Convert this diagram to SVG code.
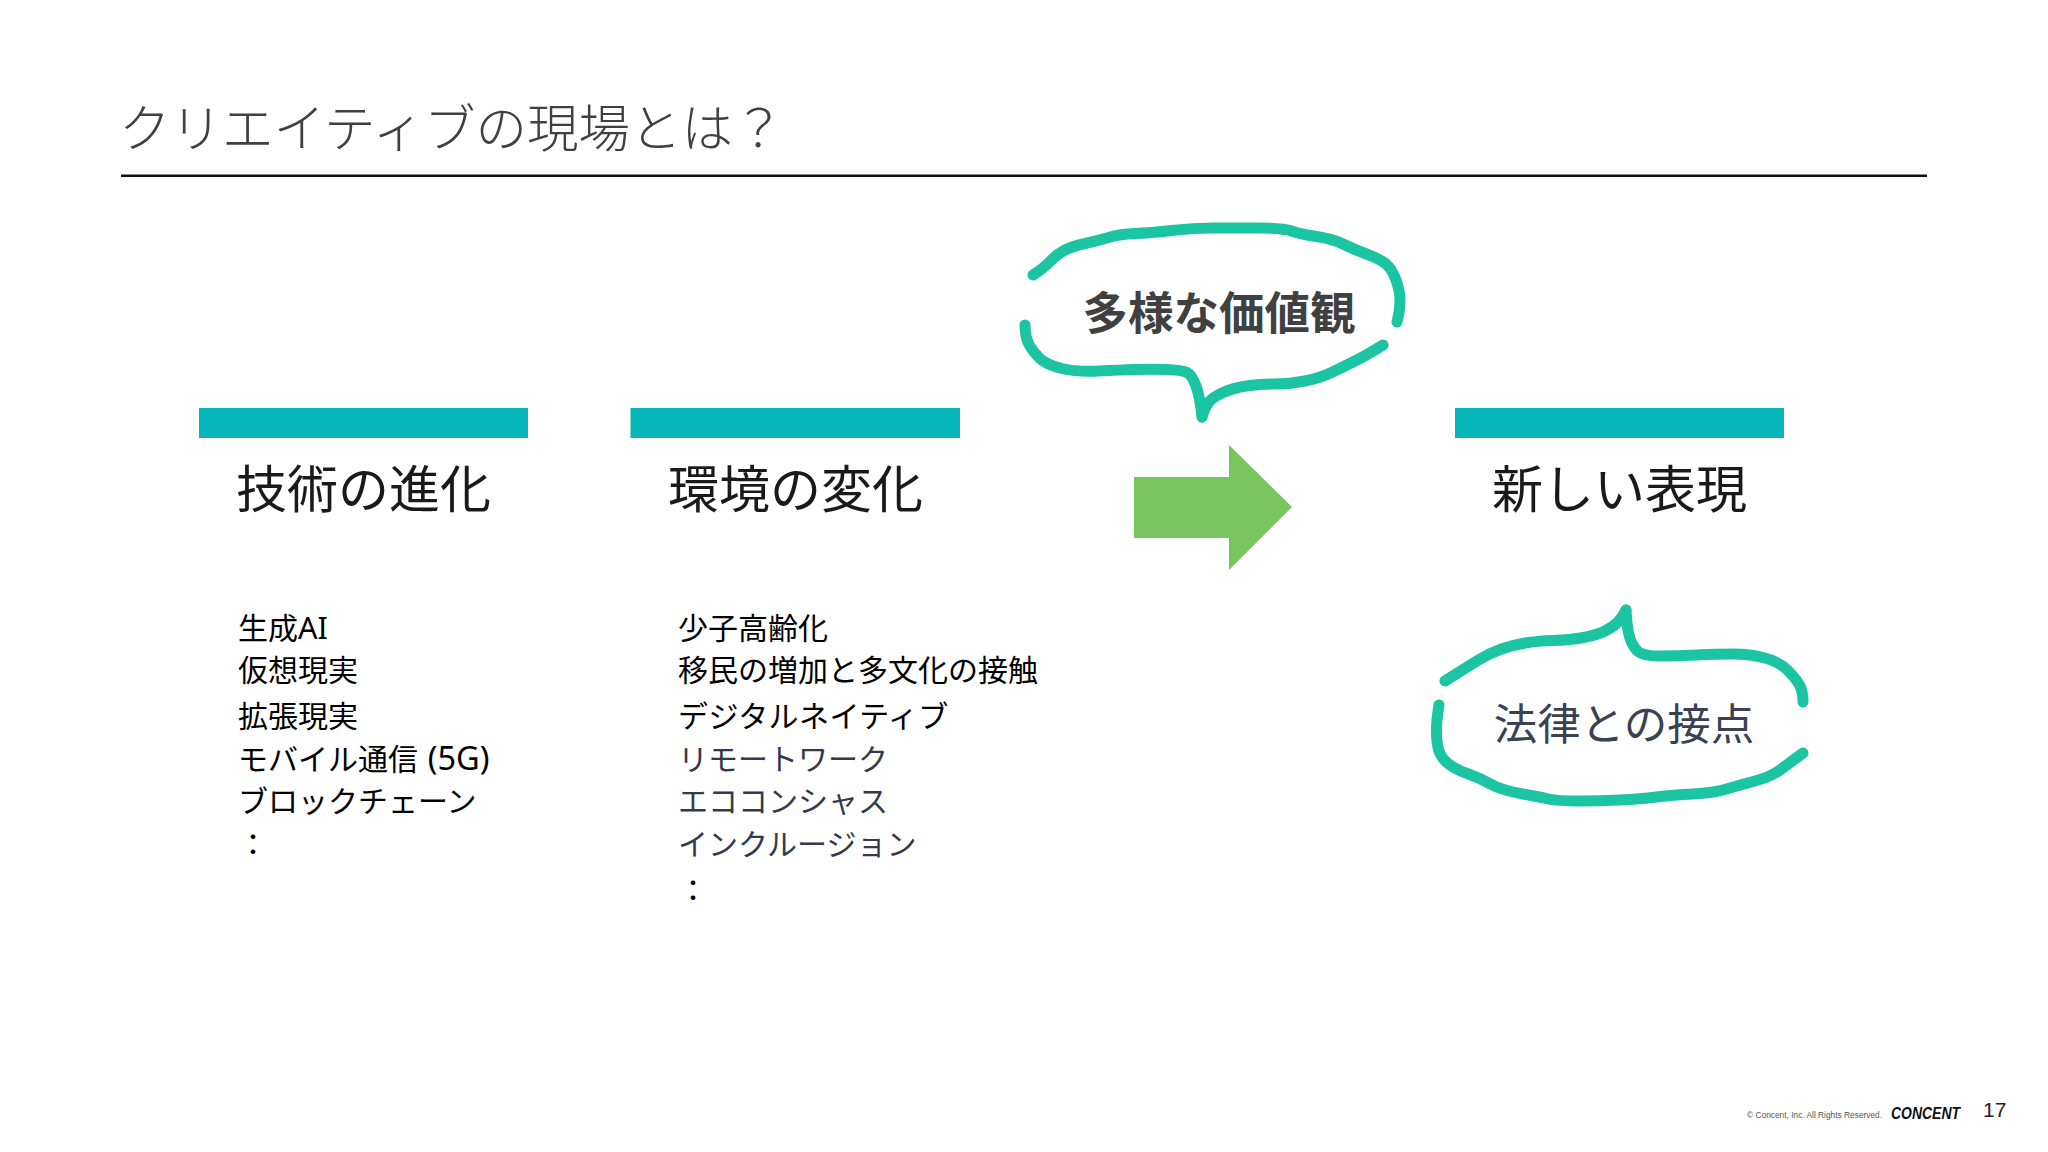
<svg xmlns="http://www.w3.org/2000/svg" width="2048" height="1152" viewBox="0 0 2048 1152">
<style>
text{font-family:"Noto Sans CJK JP","Noto Sans",sans-serif}
.bar{fill:#06b6b9}
.h{font-size:51px;fill:#1a1a1a;text-anchor:middle}
.l{font-size:30px;fill:#000}
.lat{font-family:"Noto Sans",sans-serif;font-size:32.5px}
.m{fill:#343a4c}
.s{fill:none;stroke:#1cc5a2;stroke-width:11;stroke-linecap:round;stroke-linejoin:round}
.f{font-family:"Liberation Sans",sans-serif}
</style>
<rect width="2048" height="1152" fill="#fff"/>
<g id="title"><text x="119" y="147" font-size="51.5" font-weight="300" fill="#404040">クリエイティブの現場とは？</text>
<rect x="121" y="174.500" width="1806" height="2.5" fill="#111"/></g>
<g id="col1"><rect class="bar" x="199" y="408" width="329" height="30"/><text class="h" x="363.500" y="508">技術の進化</text>
<text class="l" x="238" y="639">生成<tspan class="lat" style="font-size:30.500px">AI</tspan></text><text class="l" x="238" y="681">仮想現実</text><text class="l" x="238" y="727">拡張現実</text><text class="l" x="238" y="770">モバイル通信 <tspan class="lat" dx="3">(5G)</tspan></text><text class="l" x="238" y="812">ブロックチェーン</text><text class="l" x="238" y="855">：</text></g>
<g id="col2"><rect class="bar" x="630.500" y="408" width="329.500" height="30"/><text class="h" x="795.500" y="508">環境の変化</text>
<text class="l" x="678" y="639">少子高齢化</text><text class="l" x="678" y="681">移民の増加と多文化の接触</text><text class="l" x="678" y="727" letter-spacing=".4">デジタルネイティブ</text><text class="l m" x="678" y="770">リモートワーク</text><text class="l m" x="678" y="812">エココンシャス</text><text class="l m" x="678" y="855">インクルージョン</text><text class="l" x="678" y="901">：</text></g>
<g id="arrow"><polygon points="1134,477 1229,477 1229,445 1292,507 1229,570 1229,538 1134,538" fill="#7ac55f"/></g>
<g id="col3"><rect class="bar" x="1455" y="408" width="329" height="30"/><text class="h" x="1619.500" y="508">新しい表現</text></g>
<g id="bubble1"><path class="s" d="M1033 275Q1044 268 1050.500 261Q1057 254 1065 250Q1073 246 1085 243.500Q1097 241 1108.500 237.500Q1120 234 1135 233.500Q1150 233 1171.500 230.500Q1193 228 1213 228Q1233 228 1258 228Q1283 228 1291.500 231Q1300 234 1316.500 236.500Q1333 239 1343 244Q1353 249 1366.500 254Q1380 259 1386 264Q1392 269 1396 280Q1400 291 1400 301Q1400 311 1397 322"/>
<path class="s" d="M1383 345Q1367 355 1355 361Q1343 367 1331.500 372.500Q1320 378 1305 381Q1290 384 1275 384Q1260 384 1246.500 386Q1233 388 1223 392.500Q1213 397 1209 402Q1205 407 1202 417"/>
<path class="s" d="M1202 417Q1200 397 1196 386Q1192 375 1187 372.500Q1182 370 1166 369.500Q1150 369 1135 369.500Q1120 370 1098.500 371Q1077 372 1062 368.500Q1047 365 1040 358.500Q1033 352 1029 344.500Q1025 337 1025 325"/>
<text x="1219" y="330" font-size="45.500" font-weight="700" fill="#404040" text-anchor="middle">多様な価値観</text></g>
<g id="bubble2"><path class="s" d="M1445 681Q1467 667 1478.500 660Q1490 653 1501.500 649Q1513 645 1525 643Q1537 641 1553.500 640.500Q1570 640 1583.500 637.500Q1597 635 1605 631Q1613 627 1617.500 622.500Q1622 618 1626 610"/>
<path class="s" d="M1626 610Q1627 630 1630 638.500Q1633 647 1638 651.500Q1643 656 1660 656Q1677 656 1697 655Q1717 654 1733.500 654Q1750 654 1765 658Q1780 662 1788.500 671Q1797 680 1800 686Q1803 692 1803 702"/>
<path class="s" d="M1439 705Q1436 723 1436.500 735Q1437 747 1440 753.500Q1443 760 1450 765Q1457 770 1468.500 774Q1480 778 1488.500 783Q1497 788 1507 790.500Q1517 793 1528.500 795Q1540 797 1548.500 799Q1557 801 1578.500 801Q1600 801 1620 800Q1640 799 1656.500 797Q1673 795 1693 794Q1713 793 1726.500 789Q1740 785 1755 781Q1770 777 1778.500 771Q1787 765 1803 753"/>
<text x="1624" y="740" font-size="43.500" fill="#3a4152" text-anchor="middle">法律との接点</text></g>
<g id="footer"><text class="f" x="1747" y="1118" font-size="8.350" fill="#555">© Concent, Inc. All Rights Reserved.</text>
<text class="f" x="1891" y="1119" font-size="16" font-weight="700" font-style="italic" fill="#111" textLength="69" lengthAdjust="spacingAndGlyphs">CONCENT</text>
<text class="f" x="1983" y="1117" font-size="21" fill="#222">17</text></g>
</svg>
